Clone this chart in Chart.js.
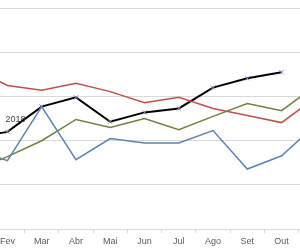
<!DOCTYPE html>
<html>
<head>
<meta charset="utf-8">
<script src="https://cdn.jsdelivr.net/npm/chart.js@4"></script>
<style>
  html, body { margin: 0; padding: 0; background: #fff; overflow: hidden; width: 300px; height: 250px; }
  #wrap { position: absolute; left: -49px; top: 0; width: 387px; height: 250px; }
</style>
</head>
<body>
<div id="wrap"><canvas id="chart"></canvas></div>
<script>
// months (Jan and Nov are cut off by the crop)
const months = ['Jan', 'Fev', 'Mar', 'Abr', 'Mai', 'Jun', 'Jul', 'Ago', 'Set', 'Out', 'Nov'];

const serie2018 = [20.7, 22.0, 27.7, 29.8, 24.3, 26.4, 27.3, 32.0, 34.1, 35.5, null];
const serieRed = [36.4, 32.5, 31.4, 33.0, 31.1, 28.6, 29.8, 27.3, 25.7, 24.1, 29.8];
const serieGreen = [13.2, 16.4, 20.0, 24.8, 23.0, 25.0, 22.5, 25.5, 28.4, 26.8, 32.5];
const serieBlue = [18.2, 15.5, 27.7, 15.7, 20.5, 19.5, 19.5, 22.3, 13.6, 16.6, 23.6];

const yTicks = [0, 10, 20, 30, 40, 50];

// series name written next to the black line
const seriesLabel = {
    id: 'seriesLabel',
    afterDatasetsDraw(chart) {
        const meta = chart.getDatasetMeta(3);
        const pt = meta.data[1];
        const ctx = chart.ctx;
        ctx.save();
        ctx.font = '9px "Liberation Sans", sans-serif';
        ctx.fillStyle = '#404040';
        ctx.textAlign = 'center';
        ctx.textBaseline = 'middle';
        ctx.fillText('2018', pt.x + 8, pt.y - 12);
        ctx.restore();
    }
};

const ctx = document.getElementById('chart').getContext('2d');
new Chart(ctx, {
    type: 'line',
    data: {
        labels: months,
        datasets: [{
            label: 'Azul',
            data: serieBlue,
            borderColor: '#5b84b4',
            borderWidth: 1.5,
            pointRadius: 0,
            tension: 0
        }, {
            label: 'Verde',
            data: serieGreen,
            borderColor: '#6f803f',
            borderWidth: 1.5,
            pointRadius: 0,
            tension: 0
        }, {
            label: 'Vermelho',
            data: serieRed,
            borderColor: '#c0504d',
            borderWidth: 1.5,
            pointRadius: 0,
            tension: 0
        }, {
            label: '2018',
            data: serie2018,
            borderColor: '#000000',
            borderWidth: 2,
            pointStyle: 'crossRot',
            pointRadius: 3,
            pointBorderColor: '#8c8cc8',
            pointBorderWidth: 1,
            tension: 0
        }]
    },
    options: {
        responsive: true,
        maintainAspectRatio: false,
        animation: false,
        layout: { padding: { top: 8, left: 0, right: 0, bottom: 0 } },
        plugins: {
            legend: { display: false },
            tooltip: { enabled: false }
        },
        scales: {
            x: {
                offset: true,
                grid: {
                    offset: true,
                    drawOnChartArea: false,
                    tickLength: 4,
                    color: '#d9d9d9'
                },
                border: { color: '#d9d9d9' },
                ticks: {
                    color: '#595959',
                    font: { family: '"Liberation Sans", sans-serif', size: 9 },
                    padding: 3,
                    maxRotation: 0,
                    autoSkip: false
                }
            },
            y: {
                min: yTicks[0],
                max: yTicks[yTicks.length - 1],
                afterBuildTicks: scale => { scale.ticks = yTicks.map(v => ({ value: v })); },
                afterFit: scale => { scale.width = 0; },
                ticks: { display: false },
                grid: { drawTicks: false, color: '#d9d9d9' },
                border: { display: false }
            }
        }
    },
    plugins: [seriesLabel]
});
</script>
</body>
</html>
